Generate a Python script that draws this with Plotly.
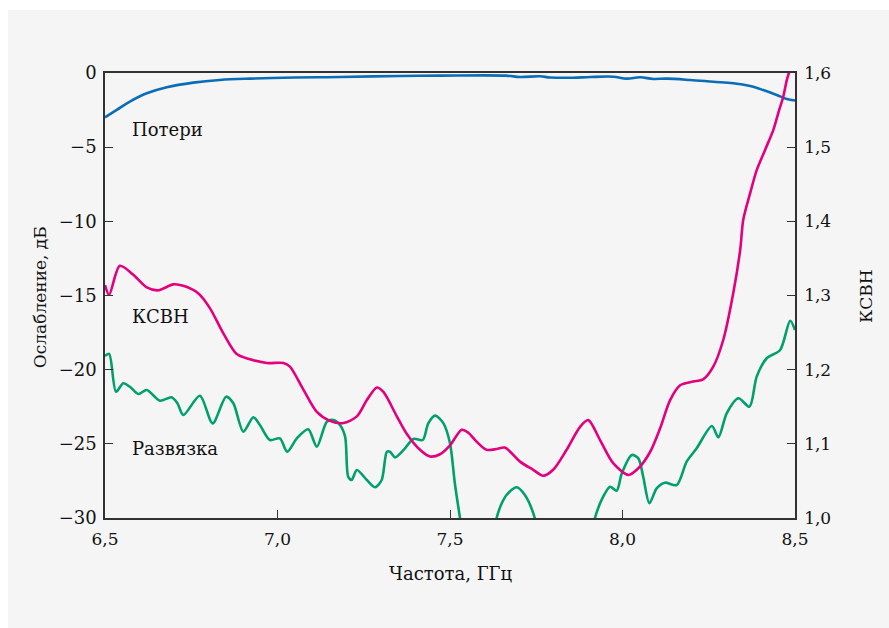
import plotly.graph_objects as go

# ---- data (frequency in GHz) ----
loss_f = [6.500, 6.534, 6.572, 6.621, 6.679, 6.756, 6.833, 6.920, 7.017, 7.114, 7.181,
          7.355, 7.471, 7.662, 7.703, 7.761, 7.790, 7.857, 7.906, 7.973, 8.012, 8.051,
          8.089, 8.128, 8.196, 8.263, 8.321, 8.370, 8.408, 8.447, 8.476, 8.500]
loss_db = [-2.99, -2.49, -1.93, -1.37, -0.96, -0.65, -0.47, -0.38, -0.32, -0.29, -0.27,
           -0.20, -0.18, -0.18, -0.27, -0.22, -0.30, -0.32, -0.27, -0.25, -0.38, -0.29,
           -0.40, -0.38, -0.47, -0.59, -0.69, -0.88, -1.15, -1.48, -1.75, -1.85]

vswr_f = [6.500, 6.512, 6.543, 6.582, 6.621, 6.654, 6.698, 6.727, 6.770, 6.804, 6.843,
          6.882, 6.920, 6.969, 7.017, 7.036, 7.075, 7.114, 7.152, 7.191, 7.230, 7.259,
          7.288, 7.307, 7.346, 7.374, 7.413, 7.442, 7.471, 7.500, 7.534, 7.553, 7.577,
          7.606, 7.635, 7.659, 7.703, 7.741, 7.770, 7.799, 7.838, 7.877, 7.901, 7.935,
          7.973, 8.017, 8.046, 8.080, 8.109, 8.138, 8.167, 8.205, 8.234, 8.263, 8.292,
          8.321, 8.341, 8.350, 8.370, 8.389, 8.413, 8.437, 8.454, 8.466, 8.476, 8.483]
vswr = [1.314, 1.301, 1.340, 1.328, 1.311, 1.307, 1.315, 1.313, 1.303, 1.283, 1.249,
        1.221, 1.214, 1.209, 1.209, 1.204, 1.173, 1.143, 1.131, 1.128, 1.137, 1.159,
        1.176, 1.170, 1.137, 1.114, 1.092, 1.083, 1.086, 1.098, 1.119, 1.115, 1.103,
        1.092, 1.093, 1.095, 1.076, 1.065, 1.057, 1.065, 1.092, 1.123, 1.132, 1.105,
        1.074, 1.058, 1.067, 1.089, 1.121, 1.159, 1.179, 1.184, 1.187, 1.204, 1.240,
        1.303, 1.361, 1.402, 1.438, 1.469, 1.496, 1.523, 1.550, 1.568, 1.590, 1.601]

iso_f = [6.500, 6.512, 6.532, 6.553, 6.572, 6.597, 6.621, 6.659, 6.693, 6.710, 6.727,
         6.775, 6.812, 6.851, 6.872, 6.901, 6.930, 6.949, 6.978, 7.007, 7.028, 7.056,
         7.089, 7.114, 7.143, 7.162, 7.181, 7.196, 7.205, 7.215, 7.230, 7.259, 7.283,
         7.302, 7.317, 7.326, 7.341, 7.365, 7.394, 7.421, 7.437, 7.457, 7.481, 7.500,
         7.514, 7.529, 7.545, 7.620, 7.635, 7.650, 7.664, 7.693, 7.717, 7.746, 7.765,
         7.900, 7.920, 7.944, 7.964, 7.983, 7.998, 8.027, 8.046, 8.060, 8.078, 8.099,
         8.123, 8.157, 8.186, 8.215, 8.259, 8.278, 8.302, 8.336, 8.368, 8.389, 8.418,
         8.457, 8.486, 8.500]
iso_db = [-19.08, -18.94, -21.49, -20.92, -21.15, -21.64, -21.37, -22.09, -21.86, -22.27, -23.06,
          -21.76, -23.62, -21.82, -22.27, -24.18, -23.21, -23.73, -24.74, -24.63, -25.53, -24.63,
          -24.02, -25.19, -23.51, -23.39, -23.73, -24.52, -27.22, -27.44, -26.76, -27.44, -27.93,
          -27.44, -25.53, -25.53, -25.91, -25.42, -24.67, -24.74, -23.62, -23.10, -23.62, -24.96,
          -27.66, -30.02, -32.5, -32.5, -30.02, -29.01, -28.45, -27.93, -28.45, -30.02, -32.5,
          -32.5, -30.02, -28.56, -27.89, -28.16, -26.99, -25.75, -25.98, -27.22, -29.01, -28.00,
          -27.62, -27.78, -26.20, -25.30, -23.80, -24.56, -22.94, -21.93, -22.50, -20.47, -19.23,
          -18.67, -16.70, -17.33]

x_ticks = [6.5, 7.0, 7.5, 8.0, 8.5]
y_ticks = [0, -5, -10, -15, -20, -25, -30]
y2_ticks = [1.0, 1.1, 1.2, 1.3, 1.4, 1.5, 1.6]

labels = ["Потери", "КСВН", "Развязка"]
label_x = [6.5725, 6.5725, 6.5725]
label_y = [-3.8, -16.4, -25.3]

FONT = "DejaVu Serif"
AX = "#333333"

fig = go.Figure()
fig.add_trace(go.Scatter(x=loss_f, y=loss_db, mode="lines", yaxis="y",
                         line=dict(color="#0a6db5", width=2.6, shape="spline", smoothing=1)))
fig.add_trace(go.Scatter(x=iso_f, y=iso_db, mode="lines", yaxis="y",
                         line=dict(color="#00a06c", width=2.6, shape="spline", smoothing=0.8)))
fig.add_trace(go.Scatter(x=vswr_f, y=vswr, mode="lines", yaxis="y2",
                         line=dict(color="#e4007c", width=2.6, shape="spline", smoothing=0.8)))

annotations = []
for t, xx, yy in zip(labels, label_x, label_y):
    annotations.append(dict(x=xx, y=yy, xref="x", yref="y", text=t, showarrow=False,
                            xanchor="left", yanchor="middle",
                            font=dict(family=FONT, size=18, color="#111111")))
annotations += [
    dict(x=-0.094, y=0.4966, xref="paper", yref="paper", text="Ослабление, дБ", textangle=-90,
         xanchor="center", yanchor="middle",
         showarrow=False, font=dict(family=FONT, size=17, color="#111111")),
    dict(x=1.1029, y=0.4966, xref="paper", yref="paper", text="КСВН", textangle=-90,
         xanchor="center", yanchor="middle",
         showarrow=False, font=dict(family=FONT, size=17, color="#111111")),
    dict(x=0.5, y=-0.1236, xref="paper", yref="paper", text="Частота, ГГц",
         xanchor="center", yanchor="middle",
         showarrow=False, font=dict(family=FONT, size=18, color="#111111")),
]

fig.update_layout(
    width=889, height=628,
    margin=dict(l=105, r=94, t=73, b=110),
    paper_bgcolor="white", plot_bgcolor="rgba(0,0,0,0)",
    separators=", ",
    showlegend=False,
    font=dict(family=FONT, size=17, color="#111111"),
    xaxis=dict(range=[6.5, 8.5], tickvals=x_ticks, tickformat=".1f", ticks="inside", ticklen=8,
               tickcolor=AX, showline=True, linecolor=AX, linewidth=1.5, mirror=True,
               ticklabelstandoff=5,
               showgrid=False, zeroline=False, tickfont=dict(family=FONT, size=17)),
    yaxis=dict(range=[-30, 0], tickvals=y_ticks, ticks="inside", ticklen=8, tickcolor=AX,
               showline=True, linecolor=AX, linewidth=1.5, showgrid=False, zeroline=False,
               ticklabelstandoff=3,
               tickfont=dict(family=FONT, size=18)),
    yaxis2=dict(range=[1.0, 1.6], tickvals=y2_ticks, tickformat=".1f", overlaying="y", side="right",
                ticks="inside", ticklen=8, tickcolor=AX, showline=True, linecolor=AX, linewidth=1.5,
                ticklabelstandoff=4,
                showgrid=False, zeroline=False, tickfont=dict(family=FONT, size=17)),
    annotations=annotations,
    shapes=[dict(type="rect", xref="paper", yref="paper", x0=-0.1406, x1=1.1362, y0=-0.2472, y1=1.1416,
                 fillcolor="#f5f5f5", line=dict(width=0), layer="below")],
)

fig.write_html("out.html", config={"displayModeBar": False},
               post_script="document.body.style.margin='0';document.body.style.overflow='hidden';")
